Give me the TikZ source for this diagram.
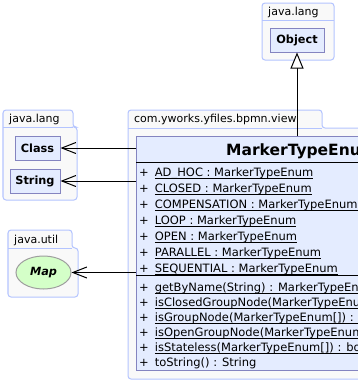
\documentclass[tikz,border=0pt]{standalone}
\usepackage{fontspec}
\setmainfont{DejaVu Sans}
\usetikzlibrary{arrows.meta,shapes.geometric}

\definecolor{pkgfill}{HTML}{F9F9F9}
\definecolor{pkgline}{HTML}{B4C4FF}
\definecolor{clsfill}{HTML}{E4ECFF}
\definecolor{clsline}{HTML}{8484C0}
\definecolor{ifcfill}{HTML}{D4FFC8}

% static members: underline close to the baseline
\newcommand{\staticmember}[1]{\setbox0\hbox{#1}\rlap{\rule[-3pt]{\wd0}{0.8pt}}\box0}

\tikzset{
    pkgbody/.style={draw=pkgline, fill=pkgfill, line width=1pt, rounded corners=3pt},
    pkgtab/.style={draw=pkgline, line width=1pt},
    pkglabel/.style={anchor=base west, inner sep=0pt, font=\fontsize{11}{13}\selectfont},
    classnode/.style={draw=clsline, fill=clsfill, line width=1pt, inner sep=0pt,
        font=\fontsize{11.3}{13}\selectfont\bfseries},
    member/.style={anchor=base west, inner sep=0pt, font=\fontsize{11.5}{14}\selectfont},
    generalize/.style={-{Triangle[length=16pt, width=13pt, fill=white]}, line width=1pt},
    depend/.style={-{Straight Barb[length=14pt, width=11pt]}, line width=1pt}
}

\begin{document}
\begin{tikzpicture}[x=1pt, y=-1pt]

        \useasboundingbox (0, 0) rectangle (358, 384);
        \clip (0, 0) rectangle (358, 384);
        \fill[white] (0, 0) rectangle (358, 384);

        % packages
        \draw[pkgbody] (262, 60) -- (262, 3) -- (334, 3) -- (334, 60) -- cycle;
        \draw[pkgtab] (262, 20) -- (334, 20);
        \node (pkg-top) at (268, 15.5) [pkglabel] {java.lang};

        \draw[pkgbody] (3, 200) -- (3, 110) -- (73, 110) -- (73, 127) -- (77, 127) -- (77, 200) -- cycle;
        \draw[pkgtab] (3, 127) -- (73, 127);
        \node (pkg-lang) at (9, 122.5) [pkglabel] {java.lang};

        \draw[pkgbody] (8, 297) -- (8, 230) -- (72, 230) -- (72, 248) -- (78, 248) -- (78, 297) -- cycle;
        \draw[pkgtab] (8, 248) -- (72, 248);
        \node (pkg-util) at (14, 243) [pkglabel] {java.util};

        \draw[pkgbody] (128, 379) -- (128, 110) -- (322, 110) -- (322, 128) -- (500, 128) -- (500, 379) -- cycle;
        \draw[pkgtab] (128, 128) -- (322, 128);
        \node (pkg-view) at (134, 122.5) [pkglabel] {com.yworks.yfiles.bpmn.view};

        % classes
        \node (obj) at (297, 40) [classnode, minimum width=54pt, minimum height=24pt] {Object};
        \node (cls) at (37.5, 148) [classnode, minimum width=45pt, minimum height=24pt] {Class};
        \node (str) at (35, 181) [classnode, minimum width=50pt, minimum height=24pt] {String};
        \node (map) at (43.5, 272.5) [ellipse, draw=black!38, fill=ifcfill, line width=1pt, inner sep=0pt,
            minimum width=55pt, minimum height=33pt, font=\fontsize{11.3}{13}\selectfont\bfseries\itshape] {Map};

        \node (enum) at (136, 136) [anchor=north west, draw=clsline, fill=clsfill, line width=1pt,
            minimum width=340pt, minimum height=234pt] {};
        \node (enum-name) at (226, 155) [anchor=base west, inner sep=0pt,
            font=\fontsize{15.5}{18}\selectfont\bfseries] {MarkerTypeEnum};
        \draw (136, 162) -- (476, 162);
        \draw (136, 275.5) -- (476, 275.5);

        \node (attr-1) at (139, 176) [member] {+\hspace{6pt}\staticmember{AD\_HOC : MarkerTypeEnum}};
        \node (attr-2) at (139, 192) [member] {+\hspace{6pt}\staticmember{CLOSED : MarkerTypeEnum}};
        \node (attr-3) at (139, 208) [member] {+\hspace{6pt}\staticmember{COMPENSATION : MarkerTypeEnum}};
        \node (attr-4) at (139, 224) [member] {+\hspace{6pt}\staticmember{LOOP : MarkerTypeEnum}};
        \node (attr-5) at (139, 240) [member] {+\hspace{6pt}\staticmember{OPEN : MarkerTypeEnum}};
        \node (attr-6) at (139, 256) [member] {+\hspace{6pt}\staticmember{PARALLEL : MarkerTypeEnum}};
        \node (attr-7) at (139, 272) [member] {+\hspace{6pt}\staticmember{SEQUENTIAL : MarkerTypeEnum}};

        \node (op-1) at (139, 291) [member] {+\hspace{6pt}\staticmember{getByName(String) : MarkerTypeEnum}};
        \node (op-2) at (139, 306) [member] {+\hspace{6pt}\staticmember{isClosedGroupNode(MarkerTypeEnum[]) : boolean}};
        \node (op-3) at (139, 321) [member] {+\hspace{6pt}\staticmember{isGroupNode(MarkerTypeEnum[]) : boolean}};
        \node (op-4) at (139, 336) [member] {+\hspace{6pt}\staticmember{isOpenGroupNode(MarkerTypeEnum[]) : boolean}};
        \node (op-5) at (139, 351) [member] {+\hspace{6pt}\staticmember{isStateless(MarkerTypeEnum[]) : boolean}};
        \node (op-6) at (139, 366) [member] {+\hspace{6pt}toString() : String};

        % connectors
        \draw[generalize] (enum.north -| obj) -- (obj);
        \draw[depend] (enum.west |- cls) -- (cls);
        \draw[depend] (enum.west |- str) -- (str);
        \draw[depend] (enum.west |- map) -- (map);

\end{tikzpicture}
\end{document}
